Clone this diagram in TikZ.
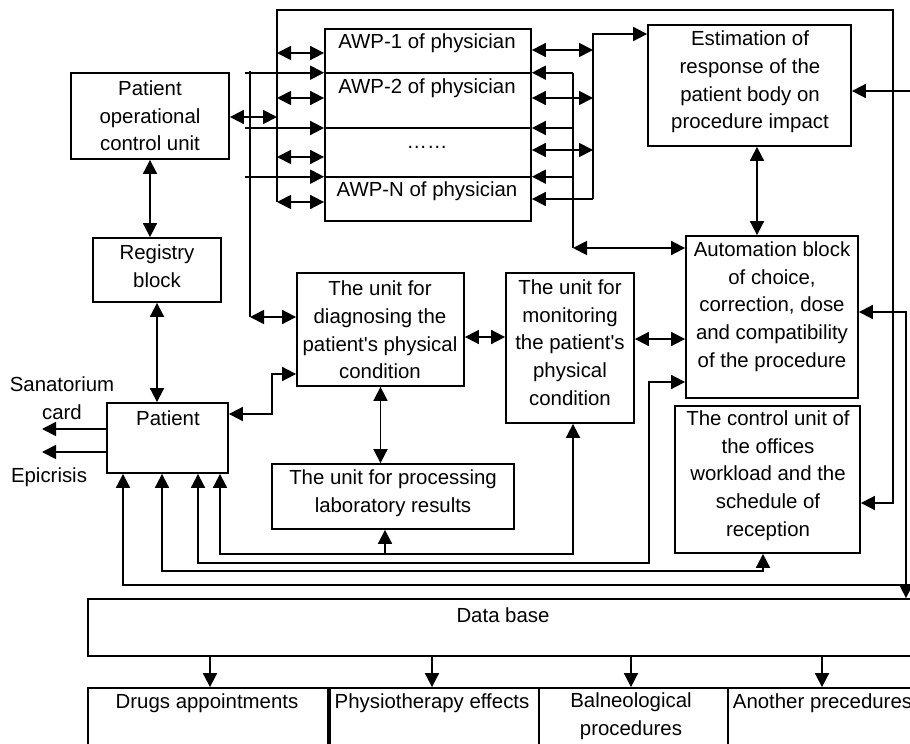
\documentclass[tikz,border=0pt]{standalone}
\usepackage{fontspec}
\setmainfont{Liberation Sans}[Ligatures=TeXOff]
\usetikzlibrary{arrows.meta,fit}
\begin{document}
\begin{tikzpicture}[x=0.5pt,y=-0.5pt,
  line width=0.9pt,
  >={Triangle[length=7pt,width=7pt]},
  box/.style={draw,inner sep=0pt,line width=0.9pt},
  txt/.style={inner sep=0pt,align=center,font=\fontsize{10.2}{13.85}\selectfont},
]
\useasboundingbox (0,0) rectangle (910,744);
\clip (0,0) rectangle (910,744);

% boxes
\node[box,fit={(325,29) (531,221)}] (awp) {};
\node[box,fit={(648,25) (851,146)}] (est) {};
\node[box,fit={(71,73) (229,159)}] (pocu) {};
\node[box,fit={(93,238) (221,302)}] (reg) {};
\node[box,fit={(297,273) (464,386)}] (diag) {};
\node[box,fit={(506,273) (634,423)}] (mon) {};
\node[box,fit={(686,236) (858,398)}] (auto) {};
\node[box,fit={(675,406) (860,553)}] (ctrl) {};
\node[box,fit={(107,403) (228,473)}] (pat) {};
\node[box,fit={(272,464) (514,529)}] (lab) {};
\node[box,fit={(88,599) (918,656)}] (db) {};
\node[box,fit={(88,688) (328,770)}] (b1) {};
\node[box,fit={(330,688) (539,770)}] (b2) {};
\node[box,fit={(539,688) (728,770)}] (b3) {};
\node[box,fit={(728,688) (918,770)}] (b4) {};

% texts
\node[txt] (t-awp1) at (427,43.5) {AWP-1 of physician};
\node[txt] (t-awp2) at (427,88.5) {AWP-2 of physician};
\node[txt] (t-awpd) at (427,147) {……};
\node[txt] (t-awpn) at (427,191) {AWP-N of physician};
\node[txt] (t-est) at (750,82) {Estimation of\\response of the\\patient body on\\procedure impact};
\node[txt] (t-pocu) at (150,116) {Patient\\operational\\control unit};
\node[txt] (t-reg) at (157,266) {Registry\\block};
\node[txt] (t-pat) at (168,418) {Patient};
\node[txt] (t-diag) at (380,330) {The unit for\\diagnosing the\\patient's physical\\condition};
\node[txt] (t-mon) at (570,342.5) {The unit for\\monitoring\\the patient's\\physical\\condition};
\node[txt] (t-auto) at (772,306.5) {Automation block\\of choice,\\correction, dose\\and compatibility\\of the procedure};
\node[txt] (t-ctrl) at (768,475.7) {The control unit of\\the offices\\workload and the\\schedule of\\reception};
\node[txt] (t-lab) at (393,493) {The unit for processing\\laboratory results};
\node[txt] (t-san) at (62,384) {Sanatorium};
\node[txt] (t-card) at (62,412) {card};
\node[txt] (t-epi) at (49,477) {Epicrisis};
\node[txt] (t-db) at (503,615) {Data base};
\node[txt] (t-b1) at (207,703) {Drugs appointments};
\node[txt] (t-b2) at (432,703) {Physiotherapy effects};
\node[txt] (t-b3) at (631,716.5) {Balneological\\procedures};
\node[txt,anchor=west] (t-b4) at (732,703) {Another precedures};

% left bus x=277 with top line
\foreach \y [count=\i] in {53,98,157,202} {
  \coordinate (la\i) at (277,\y);
  \draw[<->] (la\i) -- (la\i -| awp.west);
}
\coordinate (t2) at (277,10);
\coordinate (t3) at (893,10);
\coordinate (t4) at (893,503);
\draw[->] (la4) -- (t2) -- (t3) -- (t4) -- (t4 -| ctrl.east);
\coordinate (pc) at (277,117);
\draw[<->] (pc -| pocu.east) -- (pc);

% separators with arrows
\foreach \y [count=\i] in {72.7,128,176.7} {
  \coordinate (sl\i) at (245,\y);
  \coordinate (sr\i) at (573,\y);
  \draw[->] (sl\i) -- (sl\i -| awp.west);
  \draw (sl\i -| awp.west) -- (sl\i -| awp.east);
  \draw[->] (sr\i) -- (sr\i -| awp.east);
}

% bus x=250
\coordinate (lb1) at (250,71);
\coordinate (lb2) at (250,317);
\draw (lb1) -- (lb2);
\draw[<->] (lb2) -- (lb2 -| diag.west);

% bus x=573
\coordinate (rb1) at (573,72.7);
\coordinate (rb2) at (573,248);
\draw (rb1) -- (rb2);
\draw[<->] (rb2) -- (rb2 -| auto.west);

% bus x=593
\foreach \y [count=\i] in {50,98,150} {
  \coordinate (ra\i) at (593,\y);
  \draw[<->] (ra\i -| awp.east) -- (ra\i);
}
\coordinate (raN) at (593,199);
\coordinate (rtop) at (593,34);
\draw[->] (raN) -- (raN -| awp.east);
\draw[->] (raN) -- (rtop) -- (rtop -| est.west);

% estimation
\coordinate (ea) at (757,0);
\draw[<->] (est.south -| ea) -- (auto.north -| ea);
\coordinate (er) at (912,91);
\draw[->] (er) -- (er -| est.east);

% automation right to data base
\coordinate (ar1) at (906,312);
\coordinate (ar2) at (906,585);
\draw[<->] (ar1 -| auto.east) -- (ar1) -- (ar1 |- db.north);
\coordinate (p4) at (123,585);
\draw[->] (ar2) -- (p4) -- (p4 |- pat.south);

% left column
\draw[<->] (pocu.south) -- (pocu.south |- reg.north);
\draw[<->] (reg.south) -- (reg.south |- pat.north);
\coordinate (sc) at (42,429);
\coordinate (ep) at (42,452);
\draw[->] (sc -| pat.west) -- (sc);
\draw[->] (ep -| pat.west) -- (ep);

% patient - diagnose
\coordinate (pd1) at (272,414);
\coordinate (pd2) at (272,374);
\draw[<->] (pd1 -| pat.east) -- (pd1) -- (pd2) -- (pd2 -| diag.west);

\draw[<->] (diag.south) -- (diag.south |- lab.north);
\coordinate (dm) at (0,337);
\draw[<->] (dm -| diag.east) -- (dm -| mon.west);
\coordinate (ma) at (0,339);
\draw[<->] (ma -| mon.east) -- (ma -| auto.west);

% bottom feedback lines
\coordinate (q1) at (573,554);
\coordinate (q2) at (220,554);
\draw[<->] (mon.south -| q1) -- (q1) -- (q2) -- (q2 |- pat.south);
\coordinate (q3) at (385,554);
\draw[->] (q3) -- (q3 |- lab.south);
\coordinate (w1) at (649,382);
\coordinate (w2) at (649,563);
\coordinate (w3) at (198,563);
\draw[<->] (w1 -| auto.west) -- (w1) -- (w2) -- (w3) -- (w3 |- pat.south);
\coordinate (v1) at (763,571);
\coordinate (v2) at (162,571);
\draw[<->] (ctrl.south -| v1) -- (v1) -- (v2) -- (v2 |- pat.south);

% data base arrows
\foreach \x/\b in {210/b1,432/b2,631/b3,822/b4} {
  \coordinate (dk) at (\x,0);
  \draw[->] (db.south -| dk) -- (\b.north -| dk);
}
\end{tikzpicture}
\end{document}
